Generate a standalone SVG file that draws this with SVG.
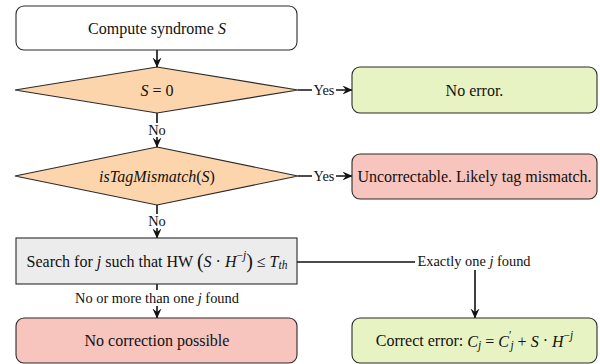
<svg xmlns="http://www.w3.org/2000/svg" width="600" height="364" viewBox="0 0 600 364" font-family="'Liberation Serif', 'DejaVu Serif', serif">
<defs>
<style>
.box{stroke:#2a2a2a;stroke-width:1.1}
.t{font-size:16px;fill:#111;text-anchor:middle;dominant-baseline:central}
.l{font-size:14.4px;fill:#111;text-anchor:middle;dominant-baseline:central}
.i{font-style:italic}
.edge{fill:none;stroke:#111;stroke-width:1.6}
.lbg{fill:#fff}
</style>
<marker id="arr" viewBox="0 0 10 10" refX="9.5" refY="5" markerWidth="10" markerHeight="10" markerUnits="userSpaceOnUse" orient="auto">
<path d="M0,0.5 L10,5 L0,9.5 L3.5,5 z" fill="#111"/>
</marker>
</defs>

<g id="connectors">
<line class="edge" x1="157" y1="50" x2="157" y2="67" marker-end="url(#arr)"/>
<line class="edge" x1="298" y1="90" x2="352" y2="90" marker-end="url(#arr)"/>
<line class="edge" x1="157" y1="113" x2="157" y2="147" marker-end="url(#arr)"/>
<line class="edge" x1="298" y1="176" x2="352" y2="176" marker-end="url(#arr)"/>
<line class="edge" x1="157" y1="205" x2="157" y2="238" marker-end="url(#arr)"/>
<line class="edge" x1="157" y1="284" x2="157" y2="318" marker-end="url(#arr)"/>
<path class="edge" d="M297,262 H475 V318" marker-end="url(#arr)"/>
<rect class="lbg" x="312" y="83" width="24" height="14"/>
<text class="l" x="324" y="90">Yes</text>
<rect class="lbg" x="145" y="123" width="24" height="14"/>
<text class="l" x="157" y="130">No</text>
<rect class="lbg" x="312" y="169" width="24" height="14"/>
<text class="l" x="324" y="176">Yes</text>
<rect class="lbg" x="145" y="214" width="24" height="14"/>
<text class="l" x="157" y="221">No</text>
<rect class="lbg" x="72" y="290" width="170" height="16"/>
<text class="l" x="157" y="298">No or more than one <tspan class="i">j</tspan> found</text>
<rect class="lbg" x="415" y="253" width="118" height="17"/>
<text class="l" x="474" y="261">Exactly one <tspan class="i">j</tspan> found</text>
</g>

<g id="n1">
<rect class="box" x="16" y="6" width="281" height="44" rx="8" fill="#ffffff"/>
<text class="t" x="157" y="28">Compute syndrome <tspan class="i">S</tspan></text>
</g>

<g id="n2">
<polygon class="box" points="157,67 298,90 157,113 15,90" fill="#fdd5ac"/>
<text class="t" x="157" y="90"><tspan class="i">S</tspan> = 0</text>
</g>

<g id="n3">
<rect class="box" x="352" y="67" width="245" height="46" rx="8" fill="#e8f3c3"/>
<text class="t" x="474.5" y="90">No error.</text>
</g>

<g id="n4">
<polygon class="box" points="157,147 298,176 157,205 15,176" fill="#fdd5ac"/>
<text class="t" x="157" y="176"><tspan class="i">isTagMismatch</tspan>(<tspan class="i">S</tspan>)</text>
</g>

<g id="n5">
<rect class="box" x="352" y="154" width="245" height="45" rx="8" fill="#f8c4be"/>
<text class="t" x="474.5" y="176.5">Uncorrectable. Likely tag mismatch.</text>
</g>

<g id="n6">
<rect class="box" x="16" y="238" width="281" height="46" fill="#ececec"/>
<text class="t" x="157" y="261">Search for <tspan class="i">j</tspan> such that HW <tspan font-size="20">(</tspan><tspan class="i">S</tspan> · <tspan class="i">H</tspan><tspan font-size="11.5" dy="-6">−<tspan class="i">j</tspan></tspan><tspan font-size="20" dy="6">)</tspan> ≤ <tspan class="i">T</tspan><tspan class="i" font-size="11.5" dy="4">th</tspan></text>
</g>

<g id="n7">
<rect class="box" x="16" y="318" width="281" height="45" rx="8" fill="#f8c4be"/>
<text class="t" x="157" y="340.5">No correction possible</text>
</g>

<g id="n8">
<rect class="box" x="352" y="318" width="245" height="45" rx="8" fill="#e8f3c3"/>
<text class="t" x="474.5" y="340.5">Correct error: <tspan class="i">C</tspan><tspan class="i" font-size="11.5" dy="4">j</tspan><tspan dy="-4"> = </tspan><tspan class="i">C</tspan><tspan font-size="11.5" dy="-6">′</tspan><tspan class="i" font-size="11.5" dx="-1" dy="10">j</tspan><tspan dy="-4"> + </tspan><tspan class="i">S</tspan> · <tspan class="i">H</tspan><tspan font-size="11.5" dy="-6">−<tspan class="i">j</tspan></tspan></text>
</g>
</svg>
